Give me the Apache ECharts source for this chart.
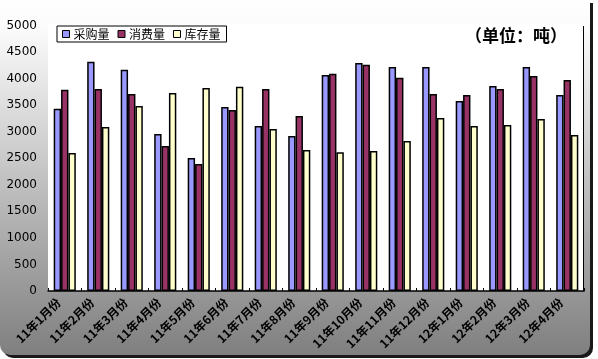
<!DOCTYPE html>
<html>
<head>
<meta charset="utf-8">
<script src="https://cdn.jsdelivr.net/npm/echarts@6/dist/echarts.min.js"></script>
<style>html,body{margin:0;padding:0;background:#fff;}#c{width:598px;height:359px;}</style>
</head>
<body>
<div id="c"></div>
<script>
var categories = ['11年1月份','11年2月份','11年3月份','11年4月份','11年5月份','11年6月份','11年7月份','11年8月份','11年9月份','11年10月份','11年11月份','11年12月份','12年1月份','12年2月份','12年3月份','12年4月份'];
var purchase = [3430, 4315, 4165, 2955, 2505, 3465, 3105, 2920, 4070, 4295, 4220, 4220, 3580, 3860, 4220, 3690];
var consume  = [3790, 3805, 3710, 2730, 2390, 3410, 3805, 3295, 4090, 4260, 4015, 3710, 3690, 3805, 4050, 3975];
var stock    = [2600, 3090, 3485, 3730, 3825, 3845, 3050, 2655, 2615, 2635, 2825, 3260, 3105, 3125, 3240, 2940];
var yTicks = [0, 500, 1000, 1500, 2000, 2500, 3000, 3500, 4000, 4500, 5000];

var chart = echarts.init(document.getElementById('c'), null, {renderer: 'canvas'});
var cjk = '"Noto Sans CJK SC", "SimSun", sans-serif';
function bar(name, data, color) {
  return {
    name: name, type: 'bar', data: data,
    barGap: '0%', barCategoryGap: '34%',
    itemStyle: {color: color, borderColor: '#000', borderWidth: 1.5},
    emphasis: {disabled: true}
  };
}
chart.setOption({
  animation: false,
  graphic: [{
    type: 'rect', z: -10, silent: true,
    shape: {x: 0, y: 0, width: 590, height: 355, r: [0, 0, 10, 10]},
    style: {
      fill: new echarts.graphic.LinearGradient(0, 0, 0, 1, [
        {offset: 0, color: '#ffffff'},
        {offset: 0.08, color: '#fbfbfb'},
        {offset: 1, color: '#7f7f7f'}
      ]),
      shadowColor: 'rgba(0,0,0,0.9)', shadowOffsetX: 3, shadowOffsetY: 3, shadowBlur: 0
    }
  }, {
    type: 'rect', z: -9, silent: true,
    shape: {x: 48, y: 24, width: 536, height: 267},
    style: {fill: '#ffffff'}
  }, {
    type: 'line', z: 5, silent: true,
    shape: {x1: 583.5, y1: 26, x2: 583.5, y2: 291},
    style: {stroke: '#000', lineWidth: 1}
  }],
  title: {
    text: '（单位：吨）', right: 26, top: 22,
    textStyle: {fontFamily: cjk, fontSize: 17, fontWeight: 'bold', color: '#000'}
  },
  legend: {
    left: 57, top: 26, padding: [2, 6, 2, 5],
    borderColor: '#000', borderWidth: 1, backgroundColor: '#fff',
    itemWidth: 7, itemHeight: 7, itemGap: 8,
    icon: 'rect',
    itemStyle: {borderColor: '#000', borderWidth: 1},
    textStyle: {fontFamily: cjk, fontSize: 12, color: '#000', padding: [0, 0, 0, -1]},
    data: ['采购量', '消费量', '库存量']
  },
  grid: {
    left: 48, right: 14, top: 25.5, bottom: 68,
    borderWidth: 0
  },
  xAxis: {
    type: 'category', data: categories,
    axisLine: {lineStyle: {color: '#000', width: 1.5}},
    axisTick: {show: true, inside: true, length: 3, lineStyle: {color: '#000'}},
    axisLabel: {
      rotate: 45, interval: 0, margin: 3,
      fontFamily: cjk, fontSize: 12, fontWeight: 'bold', color: '#000',
      padding: [0, 9, 0, 0]
    }
  },
  yAxis: {
    type: 'value', min: yTicks[0], max: yTicks[yTicks.length - 1], interval: 500,
    axisLine: {show: false}, axisTick: {show: false}, splitLine: {show: false},
    axisLabel: {margin: 11, fontFamily: '"DejaVu Sans", sans-serif', fontSize: 12, color: '#000',
      formatter: function (v) { return String(v); }}
  },
  series: [
    bar('采购量', purchase, '#9999ff'),
    bar('消费量', consume, '#993366'),
    bar('库存量', stock, '#ffffcc')
  ]
});
</script>
</body>
</html>
